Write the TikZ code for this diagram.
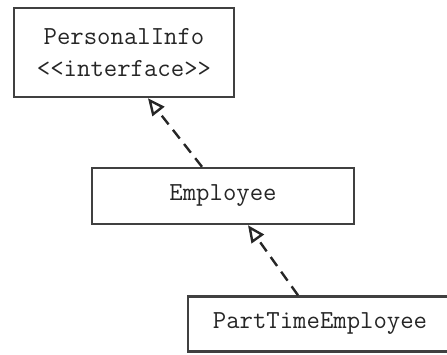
\documentclass[tikz,border=0pt]{standalone}
\usepackage{fontspec}
\usetikzlibrary{arrows.meta}
\tikzset{
  classbox/.style={draw, line width=2.4pt, inner sep=0pt, align=center,
    font=\fontsize{26}{32}\selectfont\ttfamily, draw=black!75, text=black!85},
  realize/.style={line width=2.4pt, draw=black!85, dash pattern=on 11pt off 7pt,
    -{Triangle[open, length=17pt, width=15pt, line width=2.4pt]}}
}
\begin{document}
\begin{tikzpicture}[x=1pt, y=-1pt]
  \useasboundingbox (0,0) rectangle (447,354);
  \clip (0,0) rectangle (447,354);
  \node[classbox, minimum width=220pt, minimum height=89pt] (pi) at (124,52.5)
    {PersonalInfo\\<<interface>>};
  \node[classbox, minimum width=262pt, minimum height=56pt] (emp) at (223,196)
    {Employee};
  \node[classbox, minimum width=264pt, minimum height=55pt] (pte) at (320,324)
    {PartTimeEmployee};
  \draw[realize] ([xshift=-21pt]emp.north) -- ([xshift=24pt]pi.south);
  \draw[realize] ([xshift=-22pt]pte.north) -- ([xshift=25pt]emp.south);
\end{tikzpicture}
\end{document}
